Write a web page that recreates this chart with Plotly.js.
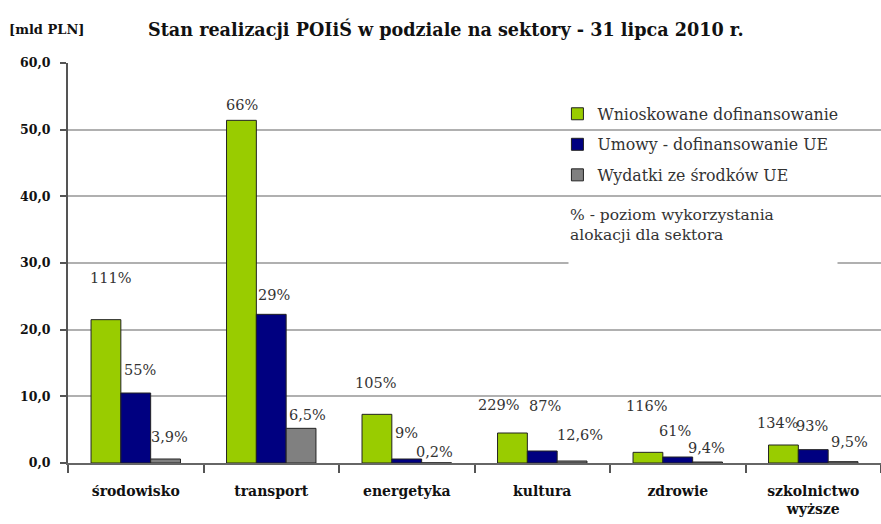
<!DOCTYPE html>
<html>
<head>
<meta charset="utf-8">
<script src="https://cdn.plot.ly/plotly-3.0.1.min.js"></script>
<style>
	html, body { margin: 0; padding: 0; background: #fff; }
	#chart { width: 881px; height: 524px; }
</style>
</head>
<body>
<div id="chart"></div>
<script>
// Sectors (x categories)
var sectors = [ "środowisko", "transport", "energetyka", "kultura", "zdrowie", "szkolnictwo<br>wyższe" ];

// Series values [mld PLN]
var requested = [ 21.5, 51.4, 7.3, 4.5, 1.6, 2.7 ];
var contracts = [ 10.5, 22.3, 0.6, 1.8, 0.9, 2.0 ];
var spending  = [ 0.6, 5.2, 0.03, 0.3, 0.15, 0.2 ];

// Percent labels per series
var requestedPct = [ "111%", "66%", "105%", "229%", "116%", "134%" ];
var contractsPct = [ "55%", "29%", "9%", "87%", "61%", "93%" ];
var spendingPct  = [ "3,9%", "6,5%", "0,2%", "12,6%", "9,4%", "9,5%" ];

// Label heights as drawn in the picture [mld PLN]
var requestedPctY = [ 27.7, 53.7, 12.0, 8.7, 8.5, 6.0 ];
var contractsPctY = [ 13.9, 25.2, 4.5, 8.5, 4.8, 5.5 ];
var spendingPctY  = [ 3.9, 7.2, 1.6, 4.2, 2.2, 3.1 ];

var seriesNames = [ "Wnioskowane dofinansowanie", "Umowy - dofinansowanie UE", "Wydatki ze środków UE" ];
var colors = [ "#99cc00", "#000080", "#808080" ];

var serif = "DejaVu Serif";

var data = [ requested, contracts, spending ].map( function( vals, i ) {
	return {
		type: "bar",
		name: seriesNames[ i ],
		legendgroup: "g" + i,
		x: sectors,
		y: vals,
		marker: { color: colors[ i ], line: { color: "#222", width: 1 } },
		hoverinfo: "skip"
	};
} );

// Horizontal offsets (px) of each percent label from its group centre
var labelDx = [
	[ -25, -29, -31, -44, -31, -36 ],
	[ 4, 3, 0, 3, -3, -1 ],
	[ 34, 36, 28, 38, 29, 36 ]
];

var annotations = [];
[ [ requestedPct, requestedPctY ], [ contractsPct, contractsPctY ], [ spendingPct, spendingPctY ] ].forEach( function( s, i ) {
	for( var k = 0; k < sectors.length; k++ )
	{
		annotations.push( {
			x: sectors[ k ], y: s[ 1 ][ k ], xref: "x", yref: "y",
			text: s[ 0 ][ k ], showarrow: false,
			xshift: labelDx[ i ][ k ],
			font: { family: serif, size: 14.5, color: "#333" }
		} );
	}
} );

// Unit label and note box
annotations.push( {
	xref: "paper", yref: "paper", x: -0.075, y: 1.085, xanchor: "left", yanchor: "middle",
	text: "<b>[mld PLN]</b>", showarrow: false,
	font: { family: serif, size: 13, color: "#111" }
} );
annotations.push( {
	xref: "paper", yref: "paper", x: 0.615, y: 0.648, xanchor: "left", yanchor: "top",
	width: 266, height: 62, align: "left", valign: "top",
	bgcolor: "#fff",
	text: "% - poziom wykorzystania<br>alokacji dla sektora", showarrow: false,
	font: { family: serif, size: 15.5, color: "#333" }
} );

var layout = {
	width: 881,
	height: 524,
	margin: { l: 68, r: 0, t: 63, b: 61 },
	paper_bgcolor: "#fff",
	plot_bgcolor: "#fff",
	separators: ",.",
	font: { family: serif, size: 14, color: "#111" },
	title: {
		text: "<b>Stan realizacji POIiŚ w podziale na sektory - 31 lipca 2010 r.</b>",
		x: 0.506, xanchor: "center", y: 0.943, yanchor: "middle",
		font: { family: serif, size: 17.6, color: "#111" }
	},
	barmode: "group",
	bargap: 0.34,
	bargroupgap: 0,
	showlegend: true,
	legend: {
		x: 0.602, y: 0.915, xanchor: "left", yanchor: "top",
		bgcolor: "rgba(0,0,0,0)",
		font: { family: serif, size: 15.8, color: "#333" },
		tracegroupgap: 7,
		itemclick: false
	},
	// white patch behind the legend that hides the 50,0 gridline
	shapes: [ {
		type: "rect", xref: "paper", yref: "paper", layer: "between",
		x0: 0.601, x1: 0.966, y0: 0.695, y1: 0.915,
		fillcolor: "#fff", line: { width: 0 }
	} ],
	xaxis: {
		type: "category",
		showline: true, linecolor: "#666", linewidth: 2,
		ticks: "outside", tickson: "boundaries", ticklen: 8, tickcolor: "#555", tickwidth: 2,
		ticklabelstandoff: 14,
		tickfont: { family: serif, size: 14, color: "#111", weight: "bold" },
		showgrid: false,
		fixedrange: true
	},
	yaxis: {
		range: [ 0, 60 ],
		dtick: 10,
		tickformat: ".1f",
		showline: true, linecolor: "#555", linewidth: 2,
		ticks: "outside", ticklen: 6, tickcolor: "#555", tickwidth: 2,
		ticklabelstandoff: 7,
		showgrid: true, gridcolor: "#b0b0b0", gridwidth: 2,
		zeroline: false,
		tickfont: { family: serif, size: 12.5, color: "#111", weight: "bold" },
		fixedrange: true
	},
	annotations: annotations
};

Plotly.newPlot( "chart", data, layout, { staticPlot: true } );
</script>
</body>
</html>
